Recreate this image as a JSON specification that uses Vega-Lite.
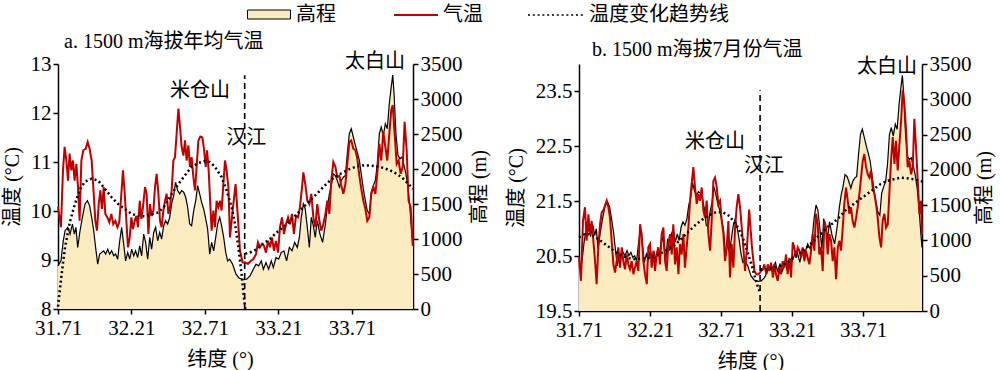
{
  "$schema": "https://vega.github.io/schema/vega-lite/v6.json",
  "padding": {"left": 2, "top": 4, "right": 2, "bottom": 0},
  "background": "white",
  "spacing": 17,
  "config": {
    "font": "Liberation Serif, Noto Sans CJK SC",
    "view": {"stroke": null},
    "axis": {"grid": false, "domainColor": "black", "domainWidth": 1.5, "tickColor": "black", "tickWidth": 1.5, "tickSize": 5, "labelFont": "Liberation Serif", "labelFontSize": 21, "labelColor": "black", "labelPadding": 2, "labelFlush": false, "labelOverlap": false, "titleFont": "Liberation Serif, Noto Sans CJK SC", "titleFontSize": 20, "titleFontWeight": "normal", "titleColor": "black"},
    "legend": {"orient": "none", "title": null, "labelFont": "Noto Sans CJK SC", "labelFontSize": 20, "labelColor": "black", "symbolSize": 400, "labelOffset": 28, "symbolOpacity": 1},
    "title": {"font": "Liberation Serif, Noto Sans CJK SC", "fontSize": 20, "fontWeight": "normal", "color": "black"}
  },
  "datasets": {
    "elev": [
      {"lat":31.71,"elev":616},{"lat":31.730,"elev":688},{"lat":31.746,"elev":975},{"lat":31.758,"elev":1118},{"lat":31.776,"elev":1166},{"lat":31.792,"elev":1070},{"lat":31.808,"elev":1214},{"lat":31.821,"elev":1070},{"lat":31.832,"elev":1166},{"lat":31.844,"elev":879},{"lat":31.860,"elev":1118},{"lat":31.876,"elev":1309},{"lat":31.894,"elev":1501},{"lat":31.910,"elev":1548},{"lat":31.925,"elev":1477},{"lat":31.939,"elev":1309},{"lat":31.953,"elev":1118},{"lat":31.966,"elev":879},{"lat":31.980,"elev":640},{"lat":31.993,"elev":784},{"lat":32.007,"elev":808},{"lat":32.021,"elev":831},{"lat":32.034,"elev":784},{"lat":32.048,"elev":855},{"lat":32.061,"elev":784},{"lat":32.075,"elev":831},{"lat":32.089,"elev":760},{"lat":32.102,"elev":784},{"lat":32.116,"elev":712},{"lat":32.130,"elev":975},{"lat":32.143,"elev":1166},{"lat":32.157,"elev":927},{"lat":32.170,"elev":688},{"lat":32.184,"elev":808},{"lat":32.198,"elev":712},{"lat":32.211,"elev":855},{"lat":32.225,"elev":760},{"lat":32.238,"elev":831},{"lat":32.252,"elev":736},{"lat":32.266,"elev":903},{"lat":32.279,"elev":760},{"lat":32.293,"elev":1070},{"lat":32.306,"elev":951},{"lat":32.320,"elev":712},{"lat":32.334,"elev":1022},{"lat":32.347,"elev":855},{"lat":32.361,"elev":1094},{"lat":32.374,"elev":1166},{"lat":32.388,"elev":975},{"lat":32.402,"elev":1094},{"lat":32.415,"elev":999},{"lat":32.429,"elev":1190},{"lat":32.442,"elev":1262},{"lat":32.456,"elev":1214},{"lat":32.470,"elev":1309},{"lat":32.483,"elev":1501},{"lat":32.497,"elev":1620},{"lat":32.510,"elev":1811},{"lat":32.524,"elev":1692},{"lat":32.538,"elev":1644},{"lat":32.551,"elev":1692},{"lat":32.565,"elev":1668},{"lat":32.579,"elev":1596},{"lat":32.592,"elev":1453},{"lat":32.606,"elev":1214},{"lat":32.619,"elev":1190},{"lat":32.633,"elev":1405},{"lat":32.647,"elev":1548},{"lat":32.660,"elev":1763},{"lat":32.674,"elev":1644},{"lat":32.687,"elev":1524},{"lat":32.701,"elev":1429},{"lat":32.715,"elev":1286},{"lat":32.728,"elev":1142},{"lat":32.742,"elev":784},{"lat":32.755,"elev":951},{"lat":32.769,"elev":831},{"lat":32.783,"elev":1022},{"lat":32.796,"elev":1214},{"lat":32.810,"elev":1309},{"lat":32.823,"elev":1190},{"lat":32.837,"elev":1022},{"lat":32.851,"elev":808},{"lat":32.864,"elev":688},{"lat":32.878,"elev":712},{"lat":32.898,"elev":640},{"lat":32.921,"elev":497},{"lat":32.943,"elev":440},{"lat":32.971,"elev":420},{"lat":32.993,"elev":425},{"lat":33.016,"elev":473},{"lat":33.039,"elev":568},{"lat":33.057,"elev":640},{"lat":33.075,"elev":616},{"lat":33.093,"elev":688},{"lat":33.107,"elev":568},{"lat":33.125,"elev":664},{"lat":33.143,"elev":568},{"lat":33.161,"elev":688},{"lat":33.175,"elev":592},{"lat":33.193,"elev":736},{"lat":33.211,"elev":712},{"lat":33.229,"elev":808},{"lat":33.247,"elev":831},{"lat":33.265,"elev":688},{"lat":33.284,"elev":879},{"lat":33.302,"elev":831},{"lat":33.320,"elev":951},{"lat":33.338,"elev":879},{"lat":33.352,"elev":1022},{"lat":33.365,"elev":1309},{"lat":33.379,"elev":1501},{"lat":33.392,"elev":1429},{"lat":33.406,"elev":1166},{"lat":33.420,"elev":879},{"lat":33.433,"elev":1309},{"lat":33.447,"elev":1190},{"lat":33.460,"elev":1022},{"lat":33.474,"elev":1262},{"lat":33.492,"elev":1070},{"lat":33.510,"elev":951},{"lat":33.529,"elev":1214},{"lat":33.542,"elev":1453},{"lat":33.556,"elev":1644},{"lat":33.569,"elev":1763},{"lat":33.583,"elev":1931},{"lat":33.597,"elev":1907},{"lat":33.610,"elev":1835},{"lat":33.624,"elev":1740},{"lat":33.637,"elev":1835},{"lat":33.651,"elev":1883},{"lat":33.665,"elev":1907},{"lat":33.678,"elev":2218},{"lat":33.692,"elev":2504},{"lat":33.705,"elev":2576},{"lat":33.719,"elev":2457},{"lat":33.733,"elev":2337},{"lat":33.746,"elev":2241},{"lat":33.760,"elev":2122},{"lat":33.773,"elev":1931},{"lat":33.787,"elev":1716},{"lat":33.801,"elev":1548},{"lat":33.814,"elev":1405},{"lat":33.828,"elev":1357},{"lat":33.841,"elev":1668},{"lat":33.855,"elev":1763},{"lat":33.869,"elev":1835},{"lat":33.882,"elev":2074},{"lat":33.896,"elev":2504},{"lat":33.909,"elev":2600},{"lat":33.923,"elev":2481},{"lat":33.937,"elev":2648},{"lat":33.950,"elev":2576},{"lat":33.964,"elev":2935},{"lat":33.977,"elev":3174},{"lat":33.987,"elev":3341},{"lat":33.996,"elev":3078},{"lat":34.009,"elev":2504},{"lat":34.023,"elev":2194},{"lat":34.036,"elev":2146},{"lat":34.050,"elev":2170},{"lat":34.064,"elev":2050},{"lat":34.077,"elev":1931},{"lat":34.091,"elev":1740},{"lat":34.104,"elev":1453},{"lat":34.118,"elev":1070},{"lat":34.125,"elev":900}
    ],
    "tempA": [
      {"lat":31.71,"t":10.08},{"lat":31.730,"t":9.67},{"lat":31.744,"t":10.83},{"lat":31.755,"t":11.31},{"lat":31.767,"t":11.03},{"lat":31.778,"t":10.62},{"lat":31.789,"t":11.17},{"lat":31.801,"t":10.83},{"lat":31.812,"t":11.03},{"lat":31.823,"t":10.62},{"lat":31.835,"t":10.96},{"lat":31.846,"t":10.49},{"lat":31.857,"t":9.80},{"lat":31.869,"t":11.03},{"lat":31.882,"t":11.24},{"lat":31.898,"t":11.27},{"lat":31.912,"t":11.41},{"lat":31.925,"t":11.27},{"lat":31.939,"t":11.03},{"lat":31.953,"t":10.35},{"lat":31.964,"t":9.80},{"lat":31.975,"t":9.60},{"lat":31.987,"t":10.14},{"lat":31.998,"t":10.42},{"lat":32.009,"t":10.04},{"lat":32.021,"t":10.49},{"lat":32.032,"t":9.94},{"lat":32.046,"t":9.87},{"lat":32.059,"t":9.77},{"lat":32.073,"t":9.94},{"lat":32.086,"t":9.73},{"lat":32.100,"t":9.80},{"lat":32.114,"t":9.67},{"lat":32.127,"t":9.77},{"lat":32.141,"t":10.35},{"lat":32.152,"t":10.83},{"lat":32.164,"t":10.35},{"lat":32.175,"t":9.80},{"lat":32.186,"t":9.26},{"lat":32.198,"t":9.46},{"lat":32.209,"t":9.87},{"lat":32.220,"t":9.63},{"lat":32.232,"t":9.80},{"lat":32.243,"t":9.90},{"lat":32.254,"t":9.67},{"lat":32.266,"t":10.21},{"lat":32.277,"t":9.84},{"lat":32.288,"t":10.08},{"lat":32.302,"t":10.49},{"lat":32.313,"t":10.35},{"lat":32.325,"t":9.53},{"lat":32.336,"t":10.14},{"lat":32.347,"t":9.90},{"lat":32.359,"t":10.01},{"lat":32.370,"t":10.49},{"lat":32.381,"t":10.76},{"lat":32.393,"t":10.35},{"lat":32.404,"t":9.80},{"lat":32.415,"t":9.67},{"lat":32.427,"t":10.01},{"lat":32.438,"t":10.21},{"lat":32.449,"t":10.35},{"lat":32.461,"t":9.94},{"lat":32.472,"t":10.08},{"lat":32.483,"t":10.42},{"lat":32.495,"t":11.03},{"lat":32.506,"t":11.10},{"lat":32.517,"t":11.58},{"lat":32.529,"t":12.09},{"lat":32.540,"t":11.72},{"lat":32.551,"t":11.31},{"lat":32.563,"t":11.13},{"lat":32.574,"t":11.44},{"lat":32.585,"t":11.03},{"lat":32.597,"t":11.34},{"lat":32.608,"t":10.90},{"lat":32.619,"t":11.10},{"lat":32.631,"t":10.69},{"lat":32.642,"t":10.42},{"lat":32.653,"t":10.90},{"lat":32.665,"t":11.44},{"lat":32.678,"t":11.52},{"lat":32.692,"t":11.50},{"lat":32.703,"t":11.27},{"lat":32.715,"t":10.90},{"lat":32.724,"t":11.24},{"lat":32.735,"t":10.83},{"lat":32.746,"t":10.14},{"lat":32.755,"t":9.60},{"lat":32.767,"t":10.01},{"lat":32.778,"t":9.67},{"lat":32.789,"t":10.21},{"lat":32.801,"t":10.08},{"lat":32.812,"t":10.21},{"lat":32.823,"t":10.01},{"lat":32.835,"t":10.55},{"lat":32.846,"t":11.03},{"lat":32.857,"t":10.83},{"lat":32.869,"t":10.49},{"lat":32.880,"t":9.46},{"lat":32.898,"t":10.01},{"lat":32.918,"t":10.55},{"lat":32.932,"t":9.94},{"lat":32.948,"t":9.19},{"lat":32.966,"t":8.95},{"lat":32.984,"t":8.95},{"lat":33.002,"t":8.92},{"lat":33.021,"t":8.98},{"lat":33.039,"t":9.02},{"lat":33.057,"t":9.12},{"lat":33.070,"t":9.36},{"lat":33.084,"t":9.26},{"lat":33.098,"t":9.33},{"lat":33.111,"t":9.29},{"lat":33.125,"t":9.15},{"lat":33.139,"t":9.39},{"lat":33.152,"t":9.26},{"lat":33.166,"t":9.46},{"lat":33.179,"t":9.19},{"lat":33.193,"t":9.39},{"lat":33.207,"t":9.15},{"lat":33.220,"t":9.67},{"lat":33.234,"t":9.87},{"lat":33.247,"t":9.53},{"lat":33.261,"t":9.73},{"lat":33.275,"t":9.87},{"lat":33.288,"t":9.73},{"lat":33.302,"t":9.94},{"lat":33.315,"t":9.53},{"lat":33.329,"t":9.90},{"lat":33.343,"t":9.87},{"lat":33.356,"t":10.08},{"lat":33.370,"t":10.49},{"lat":33.379,"t":10.79},{"lat":33.392,"t":10.55},{"lat":33.406,"t":10.21},{"lat":33.420,"t":10.14},{"lat":33.433,"t":10.35},{"lat":33.447,"t":9.87},{"lat":33.460,"t":9.67},{"lat":33.474,"t":10.14},{"lat":33.488,"t":9.80},{"lat":33.501,"t":9.60},{"lat":33.515,"t":9.73},{"lat":33.529,"t":9.94},{"lat":33.542,"t":10.21},{"lat":33.556,"t":9.94},{"lat":33.569,"t":10.62},{"lat":33.583,"t":11.00},{"lat":33.597,"t":10.90},{"lat":33.610,"t":10.69},{"lat":33.624,"t":10.72},{"lat":33.637,"t":10.52},{"lat":33.651,"t":10.35},{"lat":33.665,"t":10.55},{"lat":33.678,"t":10.96},{"lat":33.692,"t":11.41},{"lat":33.705,"t":11.44},{"lat":33.719,"t":11.27},{"lat":33.733,"t":11.24},{"lat":33.746,"t":11.07},{"lat":33.760,"t":10.72},{"lat":33.773,"t":10.45},{"lat":33.787,"t":10.21},{"lat":33.801,"t":10.04},{"lat":33.814,"t":9.80},{"lat":33.828,"t":9.87},{"lat":33.841,"t":10.35},{"lat":33.855,"t":10.49},{"lat":33.869,"t":10.35},{"lat":33.882,"t":10.76},{"lat":33.896,"t":11.37},{"lat":33.909,"t":11.03},{"lat":33.923,"t":11.61},{"lat":33.937,"t":11.31},{"lat":33.950,"t":11.03},{"lat":33.964,"t":11.58},{"lat":33.977,"t":12.06},{"lat":33.987,"t":12.16},{"lat":34.000,"t":11.58},{"lat":34.014,"t":10.96},{"lat":34.027,"t":11.03},{"lat":34.041,"t":10.76},{"lat":34.055,"t":10.90},{"lat":34.068,"t":11.82},{"lat":34.082,"t":11.24},{"lat":34.095,"t":10.21},{"lat":34.109,"t":10.08},{"lat":34.123,"t":9.30}
    ],
    "trendA": [
      {"lat":31.71,"t":8.05,"seg":1},{"lat":31.735,"t":8.72,"seg":1},{"lat":31.758,"t":9.26,"seg":1},{"lat":31.790,"t":9.77,"seg":1},{"lat":31.826,"t":10.15,"seg":1},{"lat":31.860,"t":10.45,"seg":1},{"lat":31.894,"t":10.60,"seg":1},{"lat":31.939,"t":10.66,"seg":1},{"lat":31.984,"t":10.62,"seg":1},{"lat":32.030,"t":10.45,"seg":1},{"lat":32.075,"t":10.28,"seg":1},{"lat":32.120,"t":10.14,"seg":1},{"lat":32.166,"t":10.04,"seg":1},{"lat":32.211,"t":9.94,"seg":1},{"lat":32.257,"t":9.90,"seg":1},{"lat":32.302,"t":9.89,"seg":1},{"lat":32.347,"t":9.93,"seg":1},{"lat":32.393,"t":9.97,"seg":1},{"lat":32.438,"t":10.11,"seg":1},{"lat":32.483,"t":10.35,"seg":1},{"lat":32.529,"t":10.55,"seg":1},{"lat":32.574,"t":10.73,"seg":1},{"lat":32.619,"t":10.90,"seg":1},{"lat":32.665,"t":10.98,"seg":1},{"lat":32.710,"t":11.02,"seg":1},{"lat":32.744,"t":11.00,"seg":1},{"lat":32.778,"t":10.90,"seg":1},{"lat":32.823,"t":10.69,"seg":1},{"lat":32.857,"t":10.42,"seg":1},{"lat":32.891,"t":10.08,"seg":1},{"lat":32.914,"t":9.74,"seg":1},{"lat":32.937,"t":9.26,"seg":1},{"lat":32.959,"t":8.71,"seg":1},{"lat":32.975,"t":8.23,"seg":1},{"lat":32.984,"t":8.0,"seg":1},
      {"lat":32.984,"t":9.13,"seg":2},{"lat":33.016,"t":9.15,"seg":2},{"lat":33.061,"t":9.22,"seg":2},{"lat":33.107,"t":9.33,"seg":2},{"lat":33.152,"t":9.43,"seg":2},{"lat":33.197,"t":9.56,"seg":2},{"lat":33.243,"t":9.67,"seg":2},{"lat":33.288,"t":9.80,"seg":2},{"lat":33.334,"t":9.93,"seg":2},{"lat":33.379,"t":10.08,"seg":2},{"lat":33.424,"t":10.21,"seg":2},{"lat":33.470,"t":10.35,"seg":2},{"lat":33.515,"t":10.49,"seg":2},{"lat":33.560,"t":10.62,"seg":2},{"lat":33.606,"t":10.72,"seg":2},{"lat":33.651,"t":10.79,"seg":2},{"lat":33.696,"t":10.86,"seg":2},{"lat":33.742,"t":10.91,"seg":2},{"lat":33.787,"t":10.93,"seg":2},{"lat":33.832,"t":10.93,"seg":2},{"lat":33.878,"t":10.91,"seg":2},{"lat":33.923,"t":10.88,"seg":2},{"lat":33.968,"t":10.83,"seg":2},{"lat":34.014,"t":10.76,"seg":2},{"lat":34.059,"t":10.66,"seg":2},{"lat":34.104,"t":10.52,"seg":2},{"lat":34.125,"t":10.45,"seg":2}
    ],
    "tempB": [
      {"lat":31.71,"t":20.47},{"lat":31.724,"t":20.05},{"lat":31.738,"t":21.14},{"lat":31.752,"t":21.39},{"lat":31.764,"t":20.78},{"lat":31.776,"t":21.26},{"lat":31.787,"t":20.90},{"lat":31.799,"t":21.14},{"lat":31.811,"t":20.78},{"lat":31.823,"t":20.41},{"lat":31.834,"t":19.99},{"lat":31.846,"t":20.66},{"lat":31.858,"t":21.08},{"lat":31.870,"t":21.30},{"lat":31.881,"t":21.33},{"lat":31.893,"t":21.42},{"lat":31.905,"t":21.51},{"lat":31.917,"t":21.39},{"lat":31.928,"t":21.20},{"lat":31.940,"t":20.78},{"lat":31.952,"t":20.35},{"lat":31.964,"t":20.20},{"lat":31.975,"t":20.41},{"lat":31.987,"t":20.66},{"lat":31.999,"t":20.29},{"lat":32.011,"t":20.66},{"lat":32.022,"t":20.41},{"lat":32.034,"t":20.26},{"lat":32.046,"t":20.53},{"lat":32.057,"t":20.35},{"lat":32.069,"t":20.26},{"lat":32.081,"t":20.41},{"lat":32.093,"t":20.17},{"lat":32.104,"t":20.29},{"lat":32.116,"t":20.41},{"lat":32.128,"t":20.23},{"lat":32.140,"t":21.08},{"lat":32.151,"t":20.90},{"lat":32.163,"t":20.41},{"lat":32.175,"t":20.17},{"lat":32.187,"t":19.99},{"lat":32.198,"t":20.66},{"lat":32.210,"t":20.72},{"lat":32.222,"t":20.29},{"lat":32.234,"t":20.60},{"lat":32.245,"t":20.23},{"lat":32.257,"t":20.53},{"lat":32.269,"t":20.66},{"lat":32.280,"t":20.35},{"lat":32.292,"t":20.90},{"lat":32.304,"t":21.02},{"lat":32.316,"t":20.41},{"lat":32.327,"t":20.23},{"lat":32.339,"t":20.72},{"lat":32.351,"t":20.90},{"lat":32.363,"t":20.53},{"lat":32.374,"t":21.08},{"lat":32.386,"t":20.35},{"lat":32.398,"t":20.66},{"lat":32.410,"t":20.17},{"lat":32.421,"t":20.72},{"lat":32.433,"t":20.53},{"lat":32.445,"t":20.90},{"lat":32.456,"t":20.29},{"lat":32.468,"t":20.66},{"lat":32.480,"t":21.02},{"lat":32.492,"t":21.51},{"lat":32.503,"t":21.81},{"lat":32.515,"t":22.12},{"lat":32.527,"t":21.75},{"lat":32.539,"t":21.45},{"lat":32.550,"t":21.63},{"lat":32.562,"t":21.51},{"lat":32.574,"t":21.75},{"lat":32.586,"t":21.33},{"lat":32.597,"t":21.20},{"lat":32.609,"t":21.51},{"lat":32.621,"t":20.90},{"lat":32.633,"t":20.60},{"lat":32.644,"t":21.14},{"lat":32.656,"t":21.87},{"lat":32.668,"t":21.93},{"lat":32.680,"t":21.75},{"lat":32.691,"t":21.45},{"lat":32.703,"t":21.51},{"lat":32.715,"t":21.14},{"lat":32.727,"t":20.90},{"lat":32.738,"t":20.41},{"lat":32.750,"t":20.66},{"lat":32.762,"t":21.14},{"lat":32.773,"t":20.11},{"lat":32.785,"t":20.72},{"lat":32.797,"t":20.29},{"lat":32.809,"t":21.02},{"lat":32.820,"t":21.39},{"lat":32.832,"t":21.63},{"lat":32.844,"t":21.39},{"lat":32.856,"t":21.02},{"lat":32.867,"t":20.66},{"lat":32.879,"t":20.23},{"lat":32.893,"t":20.66},{"lat":32.908,"t":21.35},{"lat":32.928,"t":20.66},{"lat":32.945,"t":20.23},{"lat":32.959,"t":20.17},{"lat":32.975,"t":20.17},{"lat":32.992,"t":20.23},{"lat":33.006,"t":20.26},{"lat":33.015,"t":20.35},{"lat":33.029,"t":20.17},{"lat":33.039,"t":20.35},{"lat":33.053,"t":20.23},{"lat":33.062,"t":20.38},{"lat":33.076,"t":20.11},{"lat":33.085,"t":20.35},{"lat":33.097,"t":20.17},{"lat":33.109,"t":20.05},{"lat":33.121,"t":20.29},{"lat":33.132,"t":20.17},{"lat":33.144,"t":20.41},{"lat":33.156,"t":20.29},{"lat":33.168,"t":20.53},{"lat":33.179,"t":20.17},{"lat":33.191,"t":20.47},{"lat":33.203,"t":20.11},{"lat":33.215,"t":20.75},{"lat":33.226,"t":20.66},{"lat":33.238,"t":20.47},{"lat":33.250,"t":20.66},{"lat":33.262,"t":20.60},{"lat":33.273,"t":20.47},{"lat":33.285,"t":20.66},{"lat":33.297,"t":20.41},{"lat":33.308,"t":20.60},{"lat":33.320,"t":20.47},{"lat":33.332,"t":20.35},{"lat":33.344,"t":20.60},{"lat":33.355,"t":20.90},{"lat":33.367,"t":20.60},{"lat":33.379,"t":21.27},{"lat":33.391,"t":21.08},{"lat":33.402,"t":20.53},{"lat":33.414,"t":20.66},{"lat":33.426,"t":20.23},{"lat":33.438,"t":21.14},{"lat":33.449,"t":21.02},{"lat":33.461,"t":20.53},{"lat":33.473,"t":20.90},{"lat":33.485,"t":20.78},{"lat":33.496,"t":20.41},{"lat":33.508,"t":20.66},{"lat":33.520,"t":20.08},{"lat":33.532,"t":20.66},{"lat":33.543,"t":20.78},{"lat":33.555,"t":20.60},{"lat":33.567,"t":21.02},{"lat":33.578,"t":21.45},{"lat":33.590,"t":21.75},{"lat":33.602,"t":21.51},{"lat":33.614,"t":21.27},{"lat":33.625,"t":21.39},{"lat":33.637,"t":21.14},{"lat":33.649,"t":21.02},{"lat":33.661,"t":21.20},{"lat":33.672,"t":21.39},{"lat":33.684,"t":21.63},{"lat":33.696,"t":21.93},{"lat":33.708,"t":22.24},{"lat":33.719,"t":22.36},{"lat":33.731,"t":22.12},{"lat":33.743,"t":21.99},{"lat":33.755,"t":21.93},{"lat":33.766,"t":22.06},{"lat":33.778,"t":21.75},{"lat":33.790,"t":21.63},{"lat":33.801,"t":21.45},{"lat":33.813,"t":21.20},{"lat":33.825,"t":20.84},{"lat":33.837,"t":20.66},{"lat":33.848,"t":21.14},{"lat":33.860,"t":21.27},{"lat":33.872,"t":21.02},{"lat":33.884,"t":21.08},{"lat":33.895,"t":21.63},{"lat":33.907,"t":22.24},{"lat":33.919,"t":22.67},{"lat":33.931,"t":22.18},{"lat":33.942,"t":22.60},{"lat":33.954,"t":22.06},{"lat":33.966,"t":22.54},{"lat":33.978,"t":22.97},{"lat":33.989,"t":23.52},{"lat":34.001,"t":23.27},{"lat":34.013,"t":22.79},{"lat":34.024,"t":22.12},{"lat":34.036,"t":22.24},{"lat":34.048,"t":21.99},{"lat":34.060,"t":22.12},{"lat":34.071,"t":23.00},{"lat":34.083,"t":22.48},{"lat":34.095,"t":21.87},{"lat":34.107,"t":21.27},{"lat":34.118,"t":21.51},{"lat":34.125,"t":20.90}
    ],
    "trendB": [
      {"lat":31.71,"t":20.84,"seg":1},{"lat":31.748,"t":20.90,"seg":1},{"lat":31.783,"t":20.90,"seg":1},{"lat":31.830,"t":20.84,"seg":1},{"lat":31.877,"t":20.75,"seg":1},{"lat":31.924,"t":20.66,"seg":1},{"lat":31.971,"t":20.57,"seg":1},{"lat":32.018,"t":20.50,"seg":1},{"lat":32.064,"t":20.46,"seg":1},{"lat":32.111,"t":20.44,"seg":1},{"lat":32.158,"t":20.46,"seg":1},{"lat":32.205,"t":20.47,"seg":1},{"lat":32.252,"t":20.50,"seg":1},{"lat":32.299,"t":20.57,"seg":1},{"lat":32.346,"t":20.63,"seg":1},{"lat":32.393,"t":20.72,"seg":1},{"lat":32.440,"t":20.84,"seg":1},{"lat":32.487,"t":20.96,"seg":1},{"lat":32.534,"t":21.08,"seg":1},{"lat":32.581,"t":21.17,"seg":1},{"lat":32.628,"t":21.25,"seg":1},{"lat":32.675,"t":21.30,"seg":1},{"lat":32.722,"t":21.30,"seg":1},{"lat":32.769,"t":21.23,"seg":1},{"lat":32.816,"t":21.08,"seg":1},{"lat":32.863,"t":20.84,"seg":1},{"lat":32.893,"t":20.60,"seg":1},{"lat":32.916,"t":20.42,"seg":1},{"lat":32.940,"t":20.20,"seg":1},{"lat":32.963,"t":19.99,"seg":1},{"lat":32.982,"t":19.85,"seg":1},
      {"lat":32.987,"t":20.26,"seg":2},{"lat":33.034,"t":20.26,"seg":2},{"lat":33.081,"t":20.29,"seg":2},{"lat":33.128,"t":20.32,"seg":2},{"lat":33.175,"t":20.38,"seg":2},{"lat":33.222,"t":20.47,"seg":2},{"lat":33.269,"t":20.57,"seg":2},{"lat":33.316,"t":20.66,"seg":2},{"lat":33.362,"t":20.78,"seg":2},{"lat":33.409,"t":20.90,"seg":2},{"lat":33.456,"t":21.02,"seg":2},{"lat":33.503,"t":21.11,"seg":2},{"lat":33.550,"t":21.23,"seg":2},{"lat":33.597,"t":21.36,"seg":2},{"lat":33.644,"t":21.45,"seg":2},{"lat":33.691,"t":21.54,"seg":2},{"lat":33.738,"t":21.63,"seg":2},{"lat":33.785,"t":21.72,"seg":2},{"lat":33.832,"t":21.81,"seg":2},{"lat":33.879,"t":21.87,"seg":2},{"lat":33.926,"t":21.90,"seg":2},{"lat":33.973,"t":21.93,"seg":2},{"lat":34.020,"t":21.92,"seg":2},{"lat":34.067,"t":21.90,"seg":2},{"lat":34.125,"t":21.86,"seg":2}
    ]
  },
  "hconcat": [
    {
      "width": 355, "height": 245,
      "title": {"text": "a. 1500 m海拔年均气温", "anchor": "start", "frame": "group", "dx": 6, "offset": 0},
      "resolve": {"scale": {"y": "independent"}},
      "layer": [
        {
          "data": {"name": "elev"},
          "layer": [
            {
              "mark": {"type": "area", "opacity": 1},
              "encoding": {
                "x": {"field": "lat", "type": "quantitative", "scale": {"domain": [31.71, 34.125], "nice": false, "zero": false}, "axis": {"values": [31.71, 32.21, 32.71, 33.21, 33.71], "format": ".2f", "title": "纬度 (°)", "titleX": 162, "labelPadding": 3, "titlePadding": 11}},
                "y": {"field": "elev", "type": "quantitative", "scale": {"domain": [0, 3500], "nice": false}, "axis": {"orient": "right", "values": [0, 500, 1000, 1500, 2000, 2500, 3000, 3500], "tickCount": 8, "format": "d", "labelOverlap": false, "labelSeparation": 0, "title": "高程 (m)", "titleAngle": 270, "titleBaseline": "top", "titlePadding": 7}},
                "fill": {"datum": "高程", "type": "nominal", "scale": {"domain": ["高程"], "range": ["#FBEBC1"]},
                  "legend": {"legendX": 189, "legendY": -60, "symbolType": "M-1,-0.45H3.3V0.45H-1Z", "symbolStrokeColor": "black", "symbolStrokeWidth": 1}}
              }
            },
            {
              "mark": {"type": "line", "color": "black", "strokeWidth": 1.2},
              "encoding": {
                "x": {"field": "lat", "type": "quantitative", "scale": {"domain": [31.71, 34.125], "nice": false, "zero": false}},
                "y": {"field": "elev", "type": "quantitative", "scale": {"domain": [0, 3500], "nice": false}, "axis": {"orient": "right", "values": [0, 500, 1000, 1500, 2000, 2500, 3000, 3500], "tickCount": 8, "format": "d", "labelOverlap": false, "labelSeparation": 0, "title": "高程 (m)", "titleAngle": 270, "titleBaseline": "top", "titlePadding": 7}}
              }
            }
          ]
        },
        {
          "layer": [
            {
              "data": {"name": "tempA"},
              "mark": {"type": "line", "strokeWidth": 2},
              "encoding": {
                "x": {"field": "lat", "type": "quantitative", "scale": {"domain": [31.71, 34.125], "nice": false, "zero": false}},
                "y": {"field": "t", "type": "quantitative", "scale": {"domain": [8, 13], "nice": false, "zero": false}, "axis": {"orient": "left", "values": [8, 9, 10, 11, 12, 13], "title": "温度 (°C)", "titlePadding": 8}},
                "stroke": {"datum": "气温", "type": "nominal", "scale": {"domain": ["气温"], "range": ["#C00000"]},
                  "legend": {"legendX": 335, "legendY": -60, "symbolType": "M-1,0H3.4", "symbolStrokeWidth": 2}}
              }
            },
            {
              "data": {"name": "trendA"},
              "mark": {"type": "line", "color": "black", "strokeWidth": 2.5},
              "encoding": {
                "x": {"field": "lat", "type": "quantitative", "scale": {"domain": [31.71, 34.125], "nice": false, "zero": false}},
                "y": {"field": "t", "type": "quantitative"},
                "detail": {"field": "seg", "type": "nominal"},
                "strokeDash": {"datum": "温度变化趋势线", "type": "nominal", "scale": {"domain": ["温度变化趋势线"], "range": [[2, 2.8]]},
                  "legend": {"legendX": 481, "legendY": -60, "symbolType": "M-2.2,0H3.3", "symbolStrokeWidth": 1.5, "symbolStrokeColor": "black"}}
              }
            },
            {
              "data": {"values": [{"lat": 32.98, "t0": 8, "t1": 12.77}]},
              "mark": {"type": "rule", "color": "black", "strokeWidth": 1.6, "strokeDash": [6, 4]},
              "encoding": {
                "x": {"field": "lat", "type": "quantitative", "scale": {"domain": [31.71, 34.125], "nice": false, "zero": false}},
                "y": {"field": "t0", "type": "quantitative"},
                "y2": {"field": "t1"}
              }
            },
            {
              "data": {"values": [{"label": "米仓山", "lat": 32.676, "t": 12.45}, {"label": "汉江", "lat": 32.99, "t": 11.5}, {"label": "太白山", "lat": 33.866, "t": 13.04}]},
              "mark": {"type": "text", "font": "Noto Sans CJK SC", "fontSize": 20, "color": "black", "baseline": "middle", "align": "center"},
              "encoding": {
                "x": {"field": "lat", "type": "quantitative", "scale": {"domain": [31.71, 34.125], "nice": false, "zero": false}},
                "y": {"field": "t", "type": "quantitative"},
                "text": {"field": "label", "type": "nominal"}
              }
            }
          ]
        }
      ]
    },
    {
      "width": 343, "height": 247,
      "title": {"text": "b. 1500 m海拔7月份气温", "anchor": "start", "frame": "group", "dx": 13, "offset": -7},
      "resolve": {"scale": {"y": "independent"}},
      "layer": [
        {
          "data": {"name": "elev"},
          "layer": [
            {
              "mark": {"type": "area", "opacity": 1},
              "encoding": {
                "x": {"field": "lat", "type": "quantitative", "scale": {"domain": [31.71, 34.125], "nice": false, "zero": false}, "axis": {"values": [31.71, 32.21, 32.71, 33.21, 33.71], "format": ".2f", "title": "纬度 (°)", "labelPadding": 3, "titlePadding": 11}},
                "y": {"field": "elev", "type": "quantitative", "scale": {"domain": [0, 3500], "nice": false}, "axis": {"orient": "right", "values": [0, 500, 1000, 1500, 2000, 2500, 3000, 3500], "tickCount": 8, "format": "d", "labelOverlap": false, "labelSeparation": 0, "title": "高程 (m)", "titleAngle": 270, "titleBaseline": "top", "titlePadding": 3}},
                "fill": {"datum": "高程", "type": "nominal"}
              }
            },
            {
              "mark": {"type": "line", "color": "black", "strokeWidth": 1.2},
              "encoding": {
                "x": {"field": "lat", "type": "quantitative", "scale": {"domain": [31.71, 34.125], "nice": false, "zero": false}},
                "y": {"field": "elev", "type": "quantitative", "scale": {"domain": [0, 3500], "nice": false}, "axis": {"orient": "right", "values": [0, 500, 1000, 1500, 2000, 2500, 3000, 3500], "tickCount": 8, "format": "d", "labelOverlap": false, "labelSeparation": 0, "title": "高程 (m)", "titleAngle": 270, "titleBaseline": "top", "titlePadding": 3}}
              }
            }
          ]
        },
        {
          "layer": [
            {
              "data": {"name": "tempB"},
              "mark": {"type": "line", "strokeWidth": 2},
              "encoding": {
                "x": {"field": "lat", "type": "quantitative", "scale": {"domain": [31.71, 34.125], "nice": false, "zero": false}},
                "y": {"field": "t", "type": "quantitative", "scale": {"domain": [19.5, 24], "nice": false, "zero": false}, "axis": {"orient": "left", "values": [19.5, 20.5, 21.5, 22.5, 23.5], "format": ".1f", "title": "温度 (°C)", "titlePadding": 9}},
                "stroke": {"datum": "气温", "type": "nominal"}
              }
            },
            {
              "data": {"name": "trendB"},
              "mark": {"type": "line", "color": "black", "strokeWidth": 2.5},
              "encoding": {
                "x": {"field": "lat", "type": "quantitative", "scale": {"domain": [31.71, 34.125], "nice": false, "zero": false}},
                "y": {"field": "t", "type": "quantitative"},
                "detail": {"field": "seg", "type": "nominal"},
                "strokeDash": {"datum": "温度变化趋势线", "type": "nominal"}
              }
            },
            {
              "data": {"values": [{"lat": 32.985, "t0": 19.5, "t1": 23.52}]},
              "mark": {"type": "rule", "color": "black", "strokeWidth": 1.6, "strokeDash": [6, 4]},
              "encoding": {
                "x": {"field": "lat", "type": "quantitative", "scale": {"domain": [31.71, 34.125], "nice": false, "zero": false}},
                "y": {"field": "t0", "type": "quantitative"},
                "y2": {"field": "t1"}
              }
            },
            {
              "data": {"values": [{"label": "米仓山", "lat": 32.668, "t": 22.57}, {"label": "汉江", "lat": 33.013, "t": 22.15}, {"label": "太白山", "lat": 33.879, "t": 23.94}]},
              "mark": {"type": "text", "font": "Noto Sans CJK SC", "fontSize": 20, "color": "black", "baseline": "middle", "align": "center"},
              "encoding": {
                "x": {"field": "lat", "type": "quantitative", "scale": {"domain": [31.71, 34.125], "nice": false, "zero": false}},
                "y": {"field": "t", "type": "quantitative"},
                "text": {"field": "label", "type": "nominal"}
              }
            }
          ]
        }
      ]
    }
  ],
  "resolve": {"scale": {"fill": "shared", "stroke": "shared", "strokeDash": "shared"}, "legend": {"fill": "shared", "stroke": "shared", "strokeDash": "shared"}}
}
